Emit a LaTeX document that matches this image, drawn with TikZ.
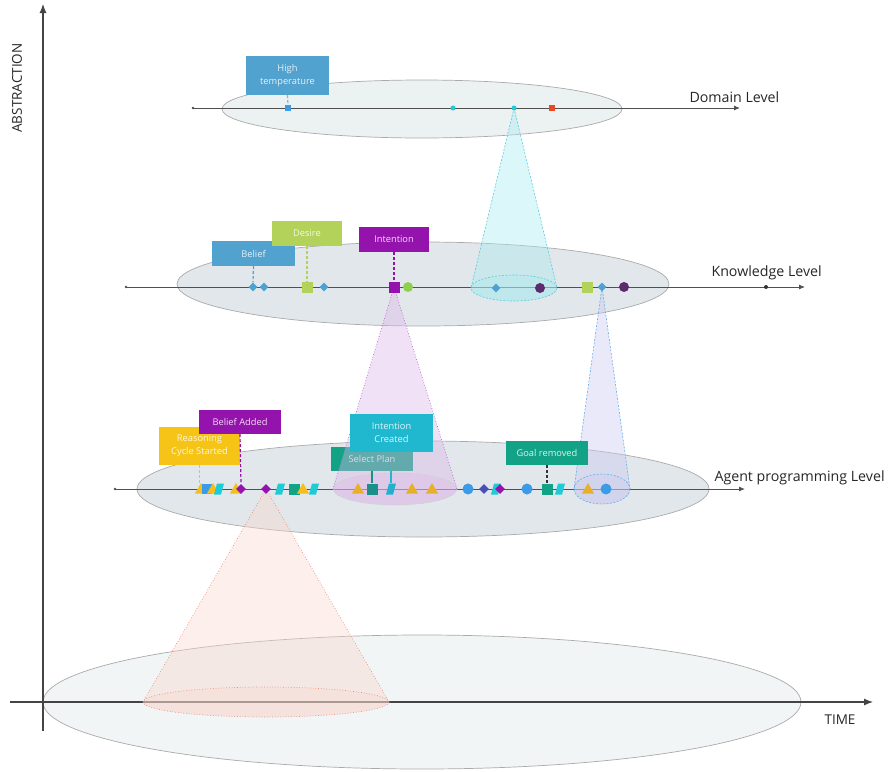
\documentclass[tikz,border=0pt]{standalone}
\usepackage{fontspec}
\setmainfont{Open Sans}
\usetikzlibrary{arrows.meta,shapes.geometric}

\definecolor{axisgray}{HTML}{444444}
\definecolor{linegray}{HTML}{505050}
\definecolor{rimgray}{HTML}{AAAAAA}
\definecolor{plainfill}{HTML}{F1F5F6}
\definecolor{domfill}{HTML}{ECF1F1}
\definecolor{levfill}{HTML}{E1E7EA}
\definecolor{boxblue}{HTML}{52A2CF}
\definecolor{boxgreen}{HTML}{B3D25A}
\definecolor{boxpurple}{HTML}{9513AD}
\definecolor{boxyellow}{HTML}{F6C416}
\definecolor{boxcyan}{HTML}{20B8CF}
\definecolor{boxteal}{HTML}{12A386}
\definecolor{mkblue}{HTML}{3B9BE6}
\definecolor{mkcyan}{HTML}{1ECBD6}
\definecolor{mkred}{HTML}{EA4825}
\definecolor{mkdiam}{HTML}{4EA2D2}
\definecolor{mkplum}{HTML}{5E2A6E}
\definecolor{mklime}{HTML}{8FD14F}
\definecolor{mkyellow}{HTML}{F4BE1C}
\definecolor{mkamber}{HTML}{E8B02A}
\definecolor{mkindigo}{HTML}{4A4FB8}
\definecolor{mkdteal}{HTML}{1C8F8A}
\definecolor{mkpcyan}{HTML}{22B0CF}
\definecolor{conecyan}{HTML}{A8EBF1}
\definecolor{conecyanedge}{HTML}{56CDDB}
\definecolor{conepurple}{HTML}{DDB5E9}
\definecolor{conepurpleedge}{HTML}{B45CCC}
\definecolor{conepurplebase}{HTML}{B5D89A}
\definecolor{coneblue}{HTML}{C8C8F2}
\definecolor{coneblueedge}{HTML}{6AAEE8}
\definecolor{conered}{HTML}{F9D6CC}
\definecolor{coneredge}{HTML}{EE8A78}

% cone from an apex point down to a base ellipse: #1 apex, #2 base coordinate,
% #3/#4 radii, #5 fill colour, #6 side style, #7 base rim style
\newcommand\drawcone[7]{%
  \fill[#5, fill opacity=0.4] (#1) -- ([xshift=-#3pt]#2)
     arc[start angle=180, end angle=0, x radius=#3, y radius=#4] -- cycle;
  \fill[#5, fill opacity=0.3] (#2) ellipse[x radius=#3, y radius=#4];
  \draw[#7] (#2) ellipse[x radius=#3, y radius=#4];
  \draw[#6] (#1) -- ([xshift=-#3pt]#2);
  \draw[#6] (#1) -- ([xshift=#3pt]#2);
}

% slanted event marker: #1 name, #2 position, #3 colour
\newcommand\parmark[3]{%
  \node[mkslot] (#1) at (#2) {};
  \fill[#3] ([xshift=-5pt,yshift=-5.5pt]#1.center) -- ([xshift=2pt,yshift=-5.5pt]#1.center)
     -- ([xshift=5pt,yshift=5.5pt]#1.center) -- ([xshift=-2pt,yshift=5.5pt]#1.center) -- cycle;
}

\tikzset{
  axis/.style={draw=axisgray, line width=1.1pt, -{Latex[length=9pt,width=7pt]}},
  levline/.style={draw=linegray, line width=0.9pt, -{Latex[length=6pt,width=5pt]}},
  levell/.style={ellipse, draw=rimgray, line width=0.7pt, inner sep=0pt},
  levlabel/.style={anchor=west, font=\fontsize{14.2}{16}\selectfont, text=black!85},
  axlabel/.style={font=\fontsize{13.5}{15}\selectfont, text=black!85},
  tag/.style={rectangle, fill=#1, inner sep=0pt, align=center,
     text=white, text opacity=0.85, font=\fontsize{9.3}{13.2}\selectfont},
  link/.style={draw=#1, line width=1.2pt, dash pattern=on 3pt off 2pt},
  mksq/.style={rectangle, fill=#1, inner sep=0pt, minimum size=11pt},
  mkdot/.style={circle, fill=#1, inner sep=0pt, minimum size=10pt},
  mkdia/.style={diamond, fill=#1, inner sep=0pt, minimum size=10pt},
  mktri/.style={regular polygon, regular polygon sides=3, fill=#1, inner sep=0pt, minimum size=14pt},
  mkslot/.style={rectangle, inner sep=0pt, minimum width=10pt, minimum height=11pt},
}

\begin{document}
\begin{tikzpicture}[x=1pt, y=-1pt]
\useasboundingbox (0,0) rectangle (888,771);

% ---------- ground plane and axes ----------
\node[levell, fill=plainfill, minimum width=758pt, minimum height=134pt] (ellG) at (422,702) {};
\coordinate (yB) at (43,731);
\coordinate (yT) at (43,4);
\coordinate (xL) at (10,702);
\coordinate (xR) at (873,702);
\draw[axis] (yB) -- (yT);
\draw[axis] (xL) -- (xR);
\node[axlabel, rotate=90] (lblA) at (17,88) {ABSTRACTION};
\node[axlabel] (lblT) at (840,720) {TIME};

% ---------- level planes ----------
\node[levell, fill=domfill, minimum width=400pt, minimum height=58pt] (ellD) at (422,109) {};
\node[levell, fill=levfill, minimum width=492pt, minimum height=84pt] (ellK) at (423,284) {};
\node[levell, fill=levfill, minimum width=572pt, minimum height=96pt] (ellA) at (423,489) {};

% ---------- time lines ----------
\coordinate (dS) at (193,108);  \coordinate (dE) at (740,108);
\coordinate (kS) at (126,287);  \coordinate (kE) at (805,287);
\coordinate (aS) at (115,489);  \coordinate (aE) at (745,489);
\draw[levline] (dS) -- (dE);
\draw[levline] (kS) -- (kE);
\draw[levline] (aS) -- (aE);
\fill[linegray] (dS) circle[radius=1.3];
\fill[linegray] (kS) circle[radius=1.3];
\fill[linegray] (aS) circle[radius=1.3];
\node[circle, fill=black!80, inner sep=0pt, minimum size=4pt] (kDot) at (766,287) {};

\node[levlabel] (lvD) at (686,97) {Domain Level};
\node[levlabel] (lvK) at (708,273) {Knowledge Level};
\node[levlabel] (lvA) at (711,478) {Agent programming Level};

% ---------- event positions used as cone apexes ----------
\coordinate (pD2) at (514,108);
\coordinate (pK4) at (394,287);
\coordinate (pK9) at (602,287);
\coordinate (pA6) at (266,489);

% ---------- select-plan tag, lying under the intention cone ----------
\node[tag=boxteal, minimum width=82pt, minimum height=24pt] (bSP) at (372,459) {Select Plan};

% ---------- cones: an event refined one level down ----------
\coordinate (cbK) at (514,288);
\drawcone{pD2}{cbK}{43}{13}{conecyan}{draw=conecyanedge, line width=0.6pt, dash pattern=on 2pt off 1.5pt}{draw=conecyanedge, line width=0.6pt, dash pattern=on 2pt off 1.5pt}
\coordinate (cbA1) at (395,489);
\drawcone{pK4}{cbA1}{62}{16}{conepurple}{draw=conepurpleedge, line width=0.7pt, dotted}{draw=conepurplebase, line width=0.7pt, dotted}
\coordinate (cbA2) at (602,489);
\drawcone{pK9}{cbA2}{28}{15}{coneblue}{draw=coneblueedge, line width=0.6pt, dash pattern=on 2pt off 1.5pt}{draw=coneblueedge, line width=0.6pt, dash pattern=on 2pt off 1.5pt}
\coordinate (cbG) at (266,702);
\drawcone{pA6}{cbG}{123}{15}{conered}{draw=coneredge, line width=0.7pt, dotted}{draw=coneredge, line width=0.7pt, dotted}

% ---------- domain events ----------
\node[mksq=mkblue, minimum size=6pt] (d0) at (288,108) {};
\node[mkdot=mkcyan, minimum size=5pt] (d1) at (453,108) {};
\node[mkdot=mkcyan, minimum size=5pt] (d2) at (pD2) {};
\node[mksq=mkred, minimum size=6pt] (d3) at (552,108) {};

% ---------- knowledge events ----------
\node[mkdia=mkdiam, minimum size=9pt] (k0) at (253,287) {};
\node[mkdia=mkdiam, minimum size=9pt] (k1) at (264,287) {};
\node[mksq=boxgreen] (k2) at (307,287) {};
\node[mkdia=mkdiam, minimum size=9pt] (k3) at (324,287) {};
\node[mksq=boxpurple] (k4) at (pK4) {};
\node[mkdot=mklime] (k5) at (408,287) {};
\node[mkdia=mkdiam, minimum size=9pt] (k6) at (496,288) {};
\node[mkdot=mkplum] (k7) at (540,288) {};
\node[mksq=boxgreen] (k8) at (587,287) {};
\node[mkdia=mkdiam, minimum size=9pt] (k9) at (pK9) {};
\node[mkdot=mkplum] (k10) at (624,287) {};

% ---------- agent programming events ----------
\node[mktri=mkyellow] (a0) at (201,490) {};
\node[mksq=mkblue, minimum size=10pt] (a1) at (207,489) {};
\node[mktri=mkyellow] (a2) at (213,490) {};
\parmark{a3}{219,489}{mkcyan}
\node[mktri=mkyellow] (a4) at (236,490) {};
\node[mkdia=boxpurple] (a5) at (241,489) {};
\node[mkdia=boxpurple] (a6) at (pA6) {};
\parmark{a7}{280,489}{mkcyan}
\node[mksq=boxteal] (a8) at (294,489) {};
\node[mktri=mkyellow] (a9) at (303,490) {};
\parmark{a10}{314,489}{mkcyan}
\node[mktri=mkamber] (a11) at (358,490) {};
\node[mksq=mkdteal] (a12) at (372,489) {};
\parmark{a13}{391,489}{mkpcyan}
\node[mktri=mkamber] (a14) at (412,490) {};
\node[mktri=mkamber] (a15) at (432,490) {};
\node[mkdot=mkblue, minimum size=11pt] (a16) at (468,489) {};
\node[mkdia=mkindigo] (a17) at (484,489) {};
\parmark{a18}{496,489}{mkcyan}
\node[mkdia=boxpurple] (a19) at (500,489) {};
\node[mkdot=mkblue, minimum size=11pt] (a20) at (527,489) {};
\node[mksq=boxteal] (a21) at (547,489) {};
\parmark{a22}{560,489}{mkcyan}
\node[mktri=mkamber] (a23) at (588,490) {};
\node[mkdot=mkblue, minimum size=11pt] (a24) at (606,489) {};

% ---------- tags ----------
\node[tag=boxblue, minimum width=83pt, minimum height=39pt] (bHT) at (287.5,75.5) {High\\temperature};
\node[tag=boxblue, minimum width=83pt, minimum height=25pt] (bBel) at (253.5,253.5) {Belief};
\node[tag=boxgreen, minimum width=70pt, minimum height=25pt] (bDes) at (307,233.5) {Desire};
\node[tag=boxpurple, minimum width=70pt, minimum height=25pt] (bInt) at (394,239.5) {Intention};
\node[tag=boxyellow, minimum width=81pt, minimum height=38pt] (bRC) at (199.5,446) {Reasoning\\Cycle Started};
\node[tag=boxpurple, minimum width=82pt, minimum height=24pt] (bBA) at (240,422) {Belief Added};
\node[tag=boxcyan, minimum width=83pt, minimum height=38pt] (bIC) at (391.5,433) {Intention\\Created};
\node[tag=boxteal, minimum width=82pt, minimum height=24pt] (bGR) at (547,453) {Goal removed};

% ---------- tag links ----------
\draw[link=boxblue!75] (bHT.south) -- (d0.north);
\draw[link=boxblue] (bBel.south) -- (k0.north);
\draw[link=boxgreen] (bDes.south) -- (k2.north);
\draw[link=boxpurple] (bInt.south) -- (k4.north);
\draw[link=boxyellow] (bRC.south) -- (bRC.south |- a0.north);
\draw[link=boxpurple] (bBA.south) -- (a5.north);
\draw[link=mkdteal, dash pattern=on 20pt off 0pt] (bSP.south) -- (a12.north);
\draw[link=boxcyan, dash pattern=on 20pt off 0pt] (bSP.south -| a13) -- (a13.north);
\draw[link=black!80] (bGR.south) -- (a21.north);

\end{tikzpicture}
\end{document}
